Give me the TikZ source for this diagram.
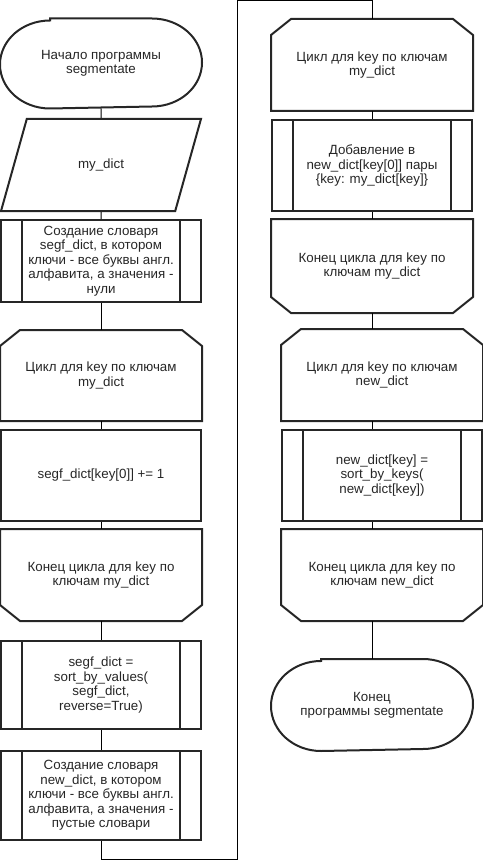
\documentclass[tikz,border=0pt]{standalone}
\usepackage{fontspec}
\setmainfont{Liberation Sans}
\usetikzlibrary{shapes.geometric}

\begin{document}
\begin{tikzpicture}[x=0.75pt,y=-0.75pt,
    every node/.style={font=\fontsize{10}{10.8}\selectfont, align=center, text=black!85,
        line width=1.5pt, draw=black!85, minimum width=150pt, inner sep=2pt},
    terminal/.style={rectangle, draw=none, minimum height=#1, append after command={\pgfextra{
        \draw[line width=1.5pt, black!85]
            ([xshift=37.5pt]\tikzlastnode.north west) -- ([xshift=-37.5pt]\tikzlastnode.north east)
            arc[start angle=90, end angle=-90, x radius=37.5pt, y radius=0.5*#1]
            -- ([xshift=37.5pt]\tikzlastnode.south west)
            arc[start angle=270, end angle=90, x radius=37.5pt, y radius=0.5*#1] -- cycle;}}},
    inout/.style={trapezium, trapezium left angle=63.4, trapezium right angle=116.6,
        trapezium stretches=true},
    proc/.style={rectangle},
    subproc/.style={rectangle, path picture={
        \draw[line width=1.5pt, black!85]
            ([xshift=15.75pt]path picture bounding box.north west) -- ([xshift=15.75pt]path picture bounding box.south west)
            ([xshift=-15.75pt]path picture bounding box.north east) -- ([xshift=-15.75pt]path picture bounding box.south east);}},
    loopstart/.style={rectangle, draw=none, append after command={\pgfextra{
        \draw[line width=1.5pt, black!85, line join=miter]
            (\tikzlastnode.south west) -- ([yshift=-12pt]\tikzlastnode.north west)
            -- ([xshift=15pt]\tikzlastnode.north west) -- ([xshift=-15pt]\tikzlastnode.north east)
            -- ([yshift=-12pt]\tikzlastnode.north east) -- (\tikzlastnode.south east) -- cycle;}}},
    loopend/.style={rectangle, draw=none, append after command={\pgfextra{
        \draw[line width=1.5pt, black!85, line join=miter]
            (\tikzlastnode.north west) -- ([yshift=12pt]\tikzlastnode.south west)
            -- ([xshift=15pt]\tikzlastnode.south west) -- ([xshift=-15pt]\tikzlastnode.south east)
            -- ([yshift=12pt]\tikzlastnode.south east) -- (\tikzlastnode.north east) -- cycle;}}},
    link/.style={line width=0.75pt, black}]
    \useasboundingbox (0,0) rectangle (482,863);

    % left column
    \node[terminal=66pt] (start) at (101,63.5) {Начало программы\\segmentate};
    \node[inout, minimum height=69pt] (input) at (101,165) {my\_dict};
    \node[subproc, minimum height=61.5pt] (segf) at (101,261) {Создание словаря\\segf\_dict, в котором\\ключи - все буквы англ.\\алфавита, а значения -\\нули};
    \node[loopstart, minimum height=66.75pt] (loopa) at (101,375.5) {Цикл для key по ключам\\my\_dict};
    \node[proc, minimum height=68.25pt] (count) at (101,475.5) {segf\_dict[key[0]] += 1};
    \node[loopend, minimum height=67.5pt] (loopaend) at (101,575) {Конец цикла для key по\\ключам my\_dict};
    \node[subproc, minimum height=66pt] (sortv) at (101,685) {segf\_dict =\\sort\_by\_values(\\segf\_dict,\\reverse=True)};
    \node[subproc, minimum height=66.75pt] (newd) at (101,795.5) {Создание словаря\\new\_dict, в котором\\ключи - все буквы англ.\\алфавита, а значения -\\пустые словари};

    % right column
    \node[loopstart, minimum height=67.5pt] (loopb) at (372,65) {Цикл для key по ключам\\my\_dict};
    \node[subproc, minimum height=68.25pt] (add) at (372,165.5) {Добавление в\\new\_dict[key[0]] пары\\\{key: my\_dict[key]\}};
    \node[loopend, minimum height=69pt] (loopbend) at (372,266) {Конец цикла для key по\\ключам my\_dict};
    \node[loopstart, minimum height=67.5pt] (loopc) at (382,375) {Цикл для key по ключам\\new\_dict};
    \node[subproc, minimum height=68.25pt] (sortk) at (382,475.5) {new\_dict[key] =\\sort\_by\_keys(\\new\_dict[key])};
    \node[loopend, minimum height=67.5pt] (loopcend) at (382,575) {Конец цикла для key по\\ключам new\_dict};
    \node[terminal=67.5pt] (stop) at (372,705) {Конец\\программы segmentate};

    % connectors
    \draw[link] (start) -- (input);
    \draw[link] (input) -- (segf);
    \draw[link] (segf) -- (loopa);
    \draw[link] (loopa) -- (count);
    \draw[link] (count) -- (loopaend);
    \draw[link] (loopaend) -- (sortv);
    \draw[link] (sortv) -- (newd);
    \coordinate (lowturn) at (237,859);
    \coordinate (topturn) at (237,1);
    \draw[link] (newd.south) |- (lowturn) -- (topturn) -| (loopb.north);
    \draw[link] (loopb) -- (add);
    \draw[link] (add) -- (loopbend);
    \draw[link] (loopbend.south) -- (loopbend.south |- loopc.north);
    \draw[link] (stop |- loopc.south) -- (stop |- sortk.north);
    \draw[link] (stop |- sortk.south) -- (stop |- loopcend.north);
    \draw[link] (stop |- loopcend.south) -- (stop.north);
\end{tikzpicture}
\end{document}
